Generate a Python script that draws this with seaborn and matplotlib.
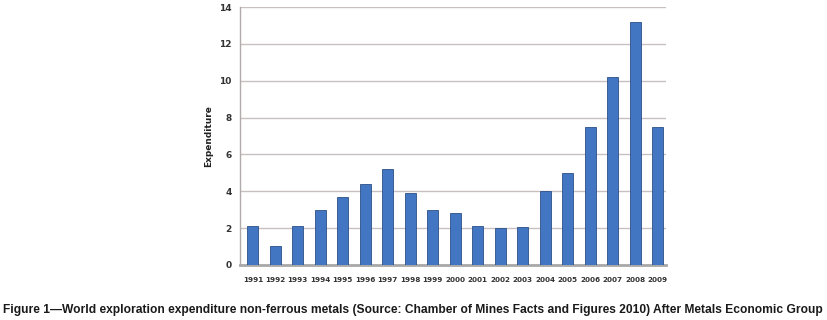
import matplotlib
matplotlib.use("Agg")
import matplotlib.pyplot as plt
import seaborn as sns
import pandas as pd

years = ["1991", "1992", "1993", "1994", "1995", "1996", "1997", "1998", "1999", "2000",
         "2001", "2002", "2003", "2004", "2005", "2006", "2007", "2008", "2009"]
expenditure = [2.1, 1.05, 2.1, 3.0, 3.7, 4.4, 5.2, 3.9, 3.0, 2.8,
               2.1, 2.0, 2.05, 4.0, 5.0, 7.5, 10.2, 13.2, 7.5]
y_ticks = [0, 2, 4, 6, 8, 10, 12, 14]

df = pd.DataFrame({"Year": years, "Expenditure": expenditure})

sns.set_style("white")
fig = plt.figure(figsize=(8.27, 3.2), dpi=100)
ax = fig.add_axes([0.290, 0.172, 0.515, 0.806])

sns.barplot(data=df, x="Year", y="Expenditure", color="#4276c2", width=0.48,
            edgecolor="#2b4f86", linewidth=0.6, saturation=1, ax=ax, zorder=3)

ax.set_ylim(0, 14)
ax.set_yticks(y_ticks)
ax.set_xlim(-0.58, len(years) - 0.64)
ax.yaxis.grid(True, color="#c8bfbf", linewidth=1.0, zorder=0)
ax.set_axisbelow(True)
for s in ["top", "right"]:
    ax.spines[s].set_visible(False)
ax.spines["left"].set_color("#b0aaaa")
ax.spines["left"].set_linewidth(1.0)
ax.spines["bottom"].set_color("#a8a8a8")
ax.spines["bottom"].set_linewidth(2.0)

ax.tick_params(axis="y", length=0, labelsize=6.5, pad=6, colors="#333333")
ax.tick_params(axis="x", length=0, labelsize=5.2, pad=9, colors="#333333")
for lbl in ax.get_yticklabels() + ax.get_xticklabels():
    lbl.set_fontweight("bold")

ax.set_xlabel("")
ax.set_ylabel("Expenditure", fontsize=6.5, fontweight="bold", labelpad=4, color="#222222")

fig.text(0.004, 0.012,
         "Figure 1\u2014World exploration expenditure non-ferrous metals (Source: Chamber of Mines Facts and Figures 2010) After Metals Economic Group",
         fontsize=8.65, fontweight="bold", color="#1a1a1a",
         family=["Liberation Sans", "DejaVu Sans"], ha="left", va="bottom")

fig.savefig("out.png", dpi=100)
